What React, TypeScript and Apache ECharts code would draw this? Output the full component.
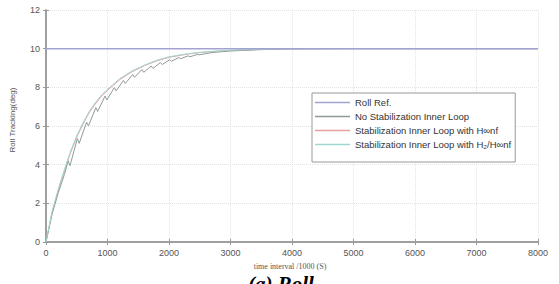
import React, { useEffect, useRef } from "react";
import * as echarts from "echarts";

const xTicks = [0, 1000, 2000, 3000, 4000, 5000, 6000, 7000, 8000];
const yTicks = [0, 2, 4, 6, 8, 10, 12];

const refTime = [0, 8000];
const refValue = [10, 10];

const grayTime = [0, 100, 200, 300, 360, 390, 510, 540, 660, 690, 810, 840, 960, 990, 1110, 1140, 1260, 1290, 1410, 1440, 1560, 1590, 1710, 1740, 1860, 1890, 2010, 2040, 2160, 2190, 2310, 2340, 2460, 2490, 2700, 3000, 3500, 4000, 5000, 8000];
const grayValue = [0, 1.45, 2.55, 3.5, 4.2, 3.95, 5.35, 5.1, 6.2, 6.0, 6.95, 6.75, 7.55, 7.35, 7.98, 7.82, 8.36, 8.2, 8.66, 8.52, 8.92, 8.78, 9.1, 8.98, 9.28, 9.18, 9.43, 9.35, 9.54, 9.48, 9.63, 9.58, 9.7, 9.68, 9.8, 9.88, 9.95, 9.99, 10, 10];

const smoothTime = [0, 100, 200, 300, 400, 500, 600, 700, 800, 900, 1000, 1200, 1400, 1600, 1800, 2000, 2300, 2600, 3000, 3500, 4000, 5000, 6000, 7000, 8000];
const redValue = [0, 1.55, 2.68, 3.68, 4.62, 5.42, 6.08, 6.68, 7.13, 7.53, 7.84, 8.4, 8.81, 9.12, 9.37, 9.55, 9.72, 9.83, 9.91, 9.96, 9.99, 10, 10, 10, 10];
const cyanValue = [0, 1.6, 2.75, 3.75, 4.7, 5.5, 6.15, 6.75, 7.2, 7.6, 7.9, 8.45, 8.85, 9.15, 9.4, 9.58, 9.74, 9.84, 9.92, 9.97, 10, 10, 10, 10, 10];

const names = [
  "Roll Ref.",
  "No Stabilization Inner Loop",
  "Stabilization Inner Loop with H∞nf",
  "Stabilization Inner Loop with H₂/H∞nf",
];

const zip = (a: number[], b: number[]) => a.map((v, i) => [v, b[i]]);

export default function App() {
  const ref = useRef<HTMLDivElement>(null);
  useEffect(() => {
    if (!ref.current) return;
    const chart = echarts.init(ref.current, undefined, { renderer: "svg" });
    const axisLabel = {
      color: "#555",
      fontSize: 9,
      fontFamily: "Liberation Sans",
      formatter: (v: number) => String(v),
    };
    const lineCol = "#9a9a9a";
    chart.setOption({
      animation: false,
      backgroundColor: "#fff",
      grid: { left: 46, right: 21, top: 10, bottom: 42 },
      legend: {
        orient: "vertical",
        left: 312,
        top: 93,
        icon: "rect",
        itemWidth: 35,
        itemHeight: 1.5,
        itemGap: 3,
        padding: [4, 4, 12, 3],
        backgroundColor: "#fff",
        borderColor: "#999",
        borderWidth: 1,
        textStyle: { color: "#333", fontSize: 9.5, lineHeight: 11, fontFamily: "Liberation Sans" },
        data: names,
      },
      xAxis: [
        {
          type: "value",
          min: 0,
          max: 8000,
          interval: 1000,
          axisLine: { lineStyle: { color: lineCol, width: 1.5 } },
          axisTick: { inside: true, length: 3, lineStyle: { color: lineCol } },
          axisLabel: { ...axisLabel, margin: 6 },
          splitLine: { show: true, lineStyle: { color: "#e4e4e4", type: "dotted" } },
        },
        {
          type: "value",
          position: "top",
          min: 0,
          max: 8000,
          interval: 1000,
          axisLine: { show: true, lineStyle: { color: lineCol, width: 1.5 } },
          axisTick: { inside: true, length: 3, lineStyle: { color: lineCol } },
          axisLabel: { show: false },
          splitLine: { show: false },
        },
      ],
      yAxis: [
        {
          type: "value",
          min: 0,
          max: 12,
          interval: 2,
          axisLine: { show: true, lineStyle: { color: lineCol, width: 1.5 } },
          axisTick: { show: true, inside: true, length: 3, lineStyle: { color: lineCol } },
          axisLabel: { ...axisLabel, margin: 6 },
          splitLine: { show: true, lineStyle: { color: "#e4e4e4", type: "dotted" } },
        },
        {
          type: "value",
          position: "right",
          min: 0,
          max: 12,
          interval: 2,
          axisLine: { show: true, lineStyle: { color: lineCol, width: 1.5 } },
          axisTick: { show: true, inside: true, length: 3, lineStyle: { color: lineCol } },
          axisLabel: { show: false },
          splitLine: { show: false },
        },
      ],
      series: [
        {
          name: names[0],
          type: "line",
          symbol: "none",
          data: zip(refTime, refValue),
          lineStyle: { color: "#a3a3d2", width: 1.5 },
          itemStyle: { color: "#a3a3d2" },
          z: 5,
        },
        {
          name: names[1],
          type: "line",
          symbol: "none",
          data: zip(grayTime, grayValue),
          lineStyle: { color: "#8f9a96", width: 1 },
          itemStyle: { color: "#8f9a96" },
          z: 3,
        },
        {
          name: names[2],
          type: "line",
          symbol: "none",
          data: zip(smoothTime, redValue),
          lineStyle: { color: "#e8a0a0", width: 1 },
          itemStyle: { color: "#e8a0a0" },
          z: 2,
        },
        {
          name: names[3],
          type: "line",
          symbol: "none",
          data: zip(smoothTime, cyanValue),
          lineStyle: { color: "#9ed8d0", width: 1 },
          itemStyle: { color: "#9ed8d0" },
          z: 4,
        },
      ],
      graphic: [
        {
          type: "text",
          x: 12,
          y: 120,
          rotation: Math.PI / 2,
          style: {
            text: "Roll Tracking(deg)",
            fill: "#555",
            fontSize: 8,
            fontFamily: "Liberation Sans",
            align: "center",
            verticalAlign: "middle",
          },
        },
        {
          type: "text",
          x: 290,
          y: 266,
          style: {
            text: "time interval /1000 (S)",
            fill: "#555",
            fontSize: 8,
            fontFamily: "Liberation Serif",
            align: "center",
            verticalAlign: "middle",
          },
        },
        {
          type: "text",
          x: 281,
          y: 273,
          style: {
            text: "(a) Roll",
            fill: "#000",
            fontSize: 21,
            fontWeight: "bold",
            fontStyle: "italic",
            fontFamily: "Liberation Serif",
            align: "center",
            verticalAlign: "top",
          },
        },
      ],
    });
    return () => chart.dispose();
  }, []);
  return (
    <div
      ref={ref}
      style={{ position: "absolute", left: 0, top: 0, width: 559, height: 284, overflow: "hidden" }}
    />
  );
}
